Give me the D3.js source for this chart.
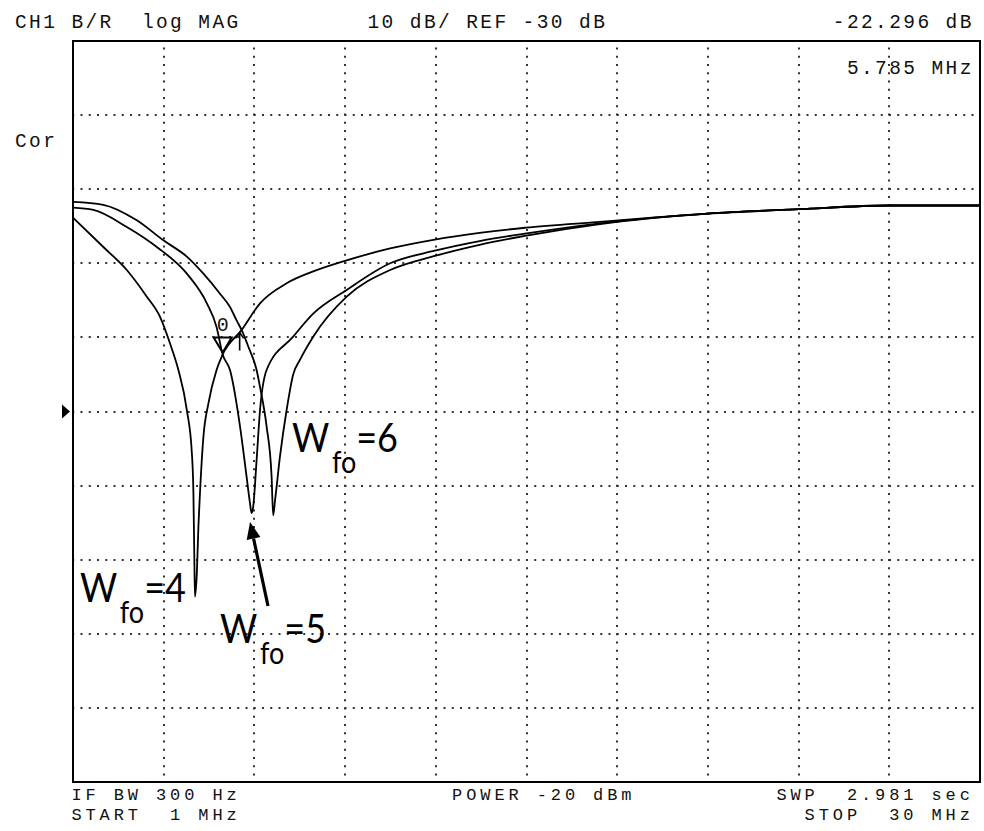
<!DOCTYPE html>
<html>
<head>
<meta charset="utf-8">
<script src="https://cdn.jsdelivr.net/npm/d3@7"></script>
<style>
  html, body { margin: 0; padding: 0; background: #fff; }
  svg { display: block; }
  .hp { font-family: "Liberation Mono", "DejaVu Sans Mono", monospace; font-size: 19.5px; letter-spacing: 2.4px; white-space: pre; fill: #111; }
  .hp.small { font-size: 17px; letter-spacing: 3.9px; }
  .lbl { font-family: Lato, "Open Sans", sans-serif; fill: #000; }
</style>
</head>
<body>
<svg id="chart" width="984" height="831"></svg>
<script>
// Sweep and display settings
const startMHz = 1, stopMHz = 30;
const refDb = -30, dbPerDiv = 10, divisions = 10;

// Active marker
const markerMHz = 5.785, markerDb = -22.296;

// Trace Wfo = 4 (frequency in MHz, magnitude in dB)
const wfo4MHz = [1.0, 1.97, 2.72, 3.36, 3.78, 4.10, 4.37, 4.64, 4.80, 4.85, 4.88, 4.90, 4.96, 5.01, 5.06, 5.17, 5.33, 5.59, 5.785, 6.39, 6.98, 7.83, 8.68, 9.75, 11.14, 12.57, 14.0, 15.45, 17.85, 21.29, 24.21, 27.09, 30.0];
const wfo4Db  = [-3.85, -7.8, -10.9, -14.5, -17.2, -20.8, -24.4, -29.8, -35.6, -41.0, -50.0, -55.0, -51.8, -45.5, -41.0, -33.4, -28.9, -24.4, -22.3, -19.0, -15.4, -12.7, -11.1, -9.6, -8.0, -6.8, -5.9, -5.2, -4.4, -3.3, -2.7, -2.2, -2.2];

// Trace Wfo = 5
const wfo5MHz = [1.0, 1.65, 2.72, 3.68, 4.64, 5.28, 5.59, 5.785, 6.02, 6.34, 6.55, 6.66, 6.71, 6.76, 6.87, 6.98, 7.19, 8.04, 8.68, 9.75, 11.14, 12.57, 14.0, 15.45, 17.85, 21.29, 24.21, 27.09, 30.0];
const wfo5Db  = [-2.5, -2.8, -5.1, -7.8, -11.4, -15.4, -18.6, -22.3, -24.4, -32.0, -38.8, -42.4, -43.7, -42.9, -36.6, -29.8, -24.4, -19.9, -16.8, -13.6, -10.0, -8.3, -7.0, -6.0, -4.6, -3.3, -2.7, -2.2, -2.2];

// Trace Wfo = 6
const wfo6MHz = [1.0, 1.97, 3.04, 3.89, 4.64, 5.17, 5.70, 6.02, 6.23, 6.39, 6.61, 6.87, 6.98, 7.19, 7.35, 7.40, 7.46, 7.62, 7.83, 8.04, 8.26, 8.68, 9.75, 11.14, 12.57, 14.0, 15.45, 17.85, 21.29, 24.21, 27.09, 30.0];
const wfo6Db  = [-1.7, -2.1, -4.2, -6.9, -9.1, -11.4, -14.1, -15.9, -17.7, -19.0, -21.3, -24.4, -26.7, -32.0, -38.8, -44.0, -42.0, -36.0, -29.8, -25.0, -23.0, -19.9, -14.5, -10.9, -9.0, -7.5, -6.3, -4.7, -3.3, -2.7, -2.2, -2.2];

// Trace labels: [main text, subscript, suffix, anchor MHz, anchor dB]
const traceLabels = [
  ["W", "fo", "=4", 1.22, -55.7],
  ["W", "fo", "=5", 5.70, -61.2],
  ["W", "fo", "=6", 8.0, -35.5]
];
// Arrow for the Wfo = 5 notch: [tail MHz, tail dB, tip MHz, tip dB]
const notchArrow = [7.235, -56.25, 6.66, -44.9];

const svg = d3.select("#chart");
const plot = { left: 73, top: 41, right: 980, bottom: 782 };

const x = d3.scaleLinear().domain([startMHz, stopMHz]).range([plot.left, plot.right]);
const y = d3.scaleLinear()
  .domain([refDb - dbPerDiv * divisions / 2, refDb + dbPerDiv * divisions / 2])
  .range([plot.bottom, plot.top]);

// Dotted graticule
const xGrid = d3.range(1, divisions).map(i => startMHz + i * (stopMHz - startMHz) / divisions);
const yGrid = d3.range(1, divisions).map(i => y.domain()[0] + i * dbPerDiv);
const grid = svg.append("g").attr("stroke", "#333").attr("stroke-width", 2)
  .attr("stroke-dasharray", "2 6.25");
grid.selectAll("line.v").data(xGrid).join("line").attr("class", "v")
  .attr("x1", d => Math.round(x(d))).attr("x2", d => Math.round(x(d)))
  .attr("y1", plot.top).attr("y2", plot.bottom)
  .attr("stroke-dashoffset", -6.5);
grid.selectAll("line.h").data(yGrid).join("line").attr("class", "h")
  .attr("y1", d => Math.round(y(d))).attr("y2", d => Math.round(y(d)))
  .attr("x1", plot.left).attr("x2", plot.right)
  .attr("stroke-dashoffset", -7.5);

// Frame
svg.append("rect")
  .attr("x", plot.left).attr("y", plot.top)
  .attr("width", plot.right - plot.left).attr("height", plot.bottom - plot.top)
  .attr("fill", "none").attr("stroke", "#000").attr("stroke-width", 2);

// Traces
const line = d3.line().x(d => x(d[0])).y(d => y(d[1])).curve(d3.curveMonotoneX);
const traces = [
  d3.zip(wfo4MHz, wfo4Db),
  d3.zip(wfo5MHz, wfo5Db),
  d3.zip(wfo6MHz, wfo6Db)
];
svg.append("g").selectAll("path").data(traces).join("path")
  .attr("d", line)
  .attr("fill", "none").attr("stroke", "#000").attr("stroke-width", 1.8)
  .attr("stroke-linejoin", "round");

// Reference position pointer
const yRef = y(refDb);
svg.append("path")
  .attr("d", `M${plot.left - 11},${yRef - 7}L${plot.left - 3},${yRef}L${plot.left - 11},${yRef + 7}Z`)
  .attr("fill", "#000");

// Marker symbol: open triangle pointing at the trace, number above it
const mx = x(markerMHz), my = y(markerDb) - 2;
svg.append("path")
  .attr("d", `M${mx},${my}L${mx - 9},${my - 15}L${mx + 9},${my - 15}Z`)
  .attr("fill", "none").attr("stroke", "#000").attr("stroke-width", 2);
svg.append("text").attr("class", "hp").attr("x", mx).attr("y", my - 21)
  .attr("text-anchor", "middle").style("letter-spacing", "0px").style("font-size", "20px").text("0");
// small reference arrow beside the marker
const ax = mx + 17, ay = my - 20;
svg.append("path")
  .attr("d", `M${ax},${ay + 18}L${ax},${ay}M${ax - 4},${ay + 6}L${ax},${ay}L${ax + 4},${ay + 6}`)
  .attr("fill", "none").attr("stroke", "#000").attr("stroke-width", 1.6);

// Instrument annotations on a character grid: [column, baseline, text, size class]
const col = c => 15 + c * 14.1;
const hpTexts = [
  [0, 28, "CH1 B/R  log MAG", ""],
  [25, 28, `${dbPerDiv} dB/ REF ${refDb} dB`, ""],
  [58, 28, `${markerDb.toFixed(3)} dB`, ""],
  [59, 74, `${markerMHz.toFixed(3)} MHz`, ""],
  [0, 146.5, "Cor", ""],
  [4, 799.5, "IF BW 300 Hz", "small"],
  [4, 819.5, `START  ${startMHz} MHz`, "small"],
  [31, 799.5, "POWER -20 dBm", "small"],
  [54, 799.5, "SWP  2.981 sec", "small"],
  [56, 819.5, `STOP  ${stopMHz} MHz`, "small"]
];
svg.append("g").selectAll("text").data(hpTexts).join("text")
  .attr("class", d => d[3] ? "hp " + d[3] : "hp")
  .attr("x", d => col(d[0])).attr("y", d => d[1])
  .text(d => d[2]);

// Trace labels (slightly condensed sans face)
const lbl = svg.append("g").selectAll("text").data(traceLabels).join("text")
  .attr("class", "lbl")
  .attr("transform", d => `translate(${x(d[3])},${y(d[4])}) scale(0.9,1)`)
  .style("font-size", "40px");
lbl.append("tspan").text(d => d[0]);
lbl.append("tspan").attr("dy", 21).attr("dx", 3).style("font-size", "30px").text(d => d[1]);
lbl.append("tspan").attr("dy", -21).attr("dx", 0).text(d => d[2]);

// Arrow pointing at the Wfo = 5 notch
const [t0, t1, p0, p1] = notchArrow;
const tx = x(t0), ty = y(t1), px = x(p0), py = y(p1);
const ang = Math.atan2(py - ty, px - tx);
const headLen = 17, headHalf = 7;
const bx = px - headLen * Math.cos(ang), by = py - headLen * Math.sin(ang);
svg.append("line")
  .attr("x1", tx).attr("y1", ty).attr("x2", bx).attr("y2", by)
  .attr("stroke", "#000").attr("stroke-width", 3.2);
svg.append("path")
  .attr("d", `M${px},${py}L${bx + headHalf * Math.sin(ang)},${by - headHalf * Math.cos(ang)}L${bx - headHalf * Math.sin(ang)},${by + headHalf * Math.cos(ang)}Z`)
  .attr("fill", "#000");
</script>
</body>
</html>
